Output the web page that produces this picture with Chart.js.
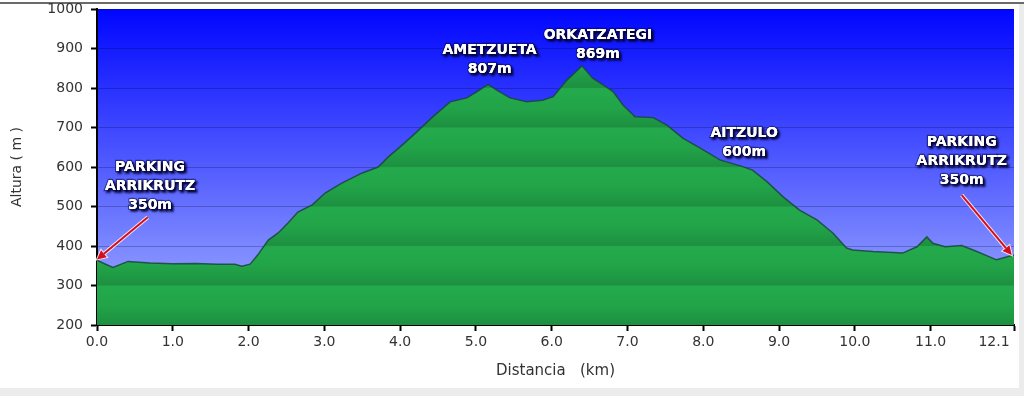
<!DOCTYPE html>
<html>
<head>
<meta charset="utf-8">
<script src="https://cdn.jsdelivr.net/npm/chart.js@4/dist/chart.umd.min.js"></script>
<style>
  html, body { margin: 0; padding: 0; background: #ffffff; }
  #wrap { position: relative; width: 1024px; height: 396px; overflow: hidden; }
  #topline { position: absolute; left: 0; top: 2px; width: 1024px; height: 2px; background: #6a6a6a; }
  #rightband { position: absolute; left: 1019px; top: 4px; width: 5px; height: 392px; background: #ececec; }
  #bottomband { position: absolute; left: 0; top: 388px; width: 1024px; height: 8px; background: #ececec; }
  canvas { position: absolute; left: 0; top: 0; }
</style>
</head>
<body>
<div id="wrap">
  <div id="topline"></div>
  <div id="rightband"></div>
  <div id="bottomband"></div>
  <canvas id="c" width="1024" height="396"></canvas>
</div>
<script>
// ---- data (distance in km, elevation in m) ----
const distanceKm = [0, 0.1, 0.21, 0.41, 0.7, 1.0, 1.3, 1.6, 1.82, 1.91, 2.02, 2.12, 2.26, 2.39, 2.52, 2.65, 2.84, 3.01, 3.23, 3.5, 3.71, 3.84, 4.0, 4.22, 4.43, 4.66, 4.88, 5.01, 5.16, 5.27, 5.45, 5.67, 5.88, 6.02, 6.2, 6.4, 6.54, 6.68, 6.81, 6.94, 7.1, 7.34, 7.52, 7.73, 7.96, 8.22, 8.52, 8.65, 8.84, 9.05, 9.27, 9.5, 9.71, 9.89, 9.97, 10.24, 10.63, 10.82, 10.95, 11.03, 11.19, 11.41, 11.61, 11.87, 12.07, 12.1];
const elevationM = [364, 355, 346, 361, 357, 355, 356, 354, 354, 349, 354, 377, 415, 433, 458, 486, 504, 534, 559, 585, 600, 625, 651, 689, 727, 765, 775, 790, 809, 795, 775, 765, 769, 778, 820, 856, 825, 808, 791, 757, 727, 725, 706, 673, 648, 618, 601, 592, 563, 525, 491, 466, 433, 395, 390, 386, 382, 398, 423, 407, 398, 401, 386, 365, 376, 377];

const xTickValues = [0, 1, 2, 3, 4, 5, 6, 7, 8, 9, 10, 11, 12.1];
const xTickLabels = ['0.0', '1.0', '2.0', '3.0', '4.0', '5.0', '6.0', '7.0', '8.0', '9.0', '10.0', '11.0', '12.1'];
const yMin = 200, yMax = 1000, yStep = 100;

// waypoint labels (text lines, anchor km, anchor elevation of first line)
const wpNames = [['PARKING', 'ARRIKRUTZ', '350m'], ['AMETZUETA', '807m'], ['ORKATZATEGI', '869m'], ['AITZULO', '600m'], ['PARKING', 'ARRIKRUTZ', '350m']];
const wpKm = [0.70, 5.18, 6.61, 8.54, 11.41];
const wpElev = [600, 896, 934, 686, 663];

// arrows: from (km, elev) to (km, elev)
const arrowFromKm = [0.67, 11.41];
const arrowFromElev = [473, 529];
const arrowToKm = [0.0, 12.07];
const arrowToElev = [366, 377];

const points = distanceKm.map((d, i) => ({ x: d, y: elevationM[i] }));

const bgPlugin = {
  id: 'bg',
  beforeDraw(chart) {
    const { ctx, chartArea: a } = chart;
    if (!a) return;
    const g = ctx.createLinearGradient(0, a.top, 0, a.bottom);
    g.addColorStop(0, '#0006ff');
    g.addColorStop(1, '#a4b2ff');
    ctx.save();
    ctx.fillStyle = g;
    ctx.fillRect(a.left, a.top, a.right - a.left, a.bottom - a.top);
    ctx.restore();
  }
};

function greenFill(context) {
  const chart = context.chart;
  const a = chart.chartArea;
  if (!a) return '#22a048';
  const ys = chart.scales.y;
  const ctx = chart.ctx;
  const g = ctx.createLinearGradient(0, a.top, 0, a.bottom);
  const H = a.bottom - a.top;
  for (let v = yMax; v > yMin; v -= yStep) {
    const pt = (ys.getPixelForValue(v) - a.top) / H;
    const pb = (ys.getPixelForValue(v - yStep) - a.top) / H;
    const span = pb - pt;
    g.addColorStop(Math.min(1, Math.max(0, pt + 0.002)), '#24aa4c');
    g.addColorStop(Math.min(1, Math.max(0, pt + span * 0.5)), '#22a449');
    g.addColorStop(Math.min(1, Math.max(0, pb - 0.002)), '#1d9040');
  }
  return g;
}

const labelPlugin = {
  id: 'labels',
  afterDraw(chart) {
    const { ctx } = chart;
    const xs = chart.scales.x, ys = chart.scales.y;
    ctx.save();
    // arrows
    for (let i = 0; i < arrowFromKm.length; i++) {
      const x1 = xs.getPixelForValue(arrowFromKm[i]), y1 = ys.getPixelForValue(arrowFromElev[i]);
      const x2 = xs.getPixelForValue(arrowToKm[i]), y2 = ys.getPixelForValue(arrowToElev[i]);
      const ang = Math.atan2(y2 - y1, x2 - x1);
      const hl = 9, hw = 4.5;
      const bx = x2 - hl * Math.cos(ang), by = y2 - hl * Math.sin(ang);
      const px = -Math.sin(ang), py = Math.cos(ang);
      ctx.strokeStyle = 'rgba(255,235,240,0.9)';
      ctx.lineWidth = 4;
      ctx.beginPath(); ctx.moveTo(x1, y1); ctx.lineTo(bx, by); ctx.stroke();
      ctx.beginPath();
      ctx.moveTo(x2, y2); ctx.lineTo(bx + px * hw, by + py * hw); ctx.lineTo(bx - px * hw, by - py * hw); ctx.closePath();
      ctx.lineWidth = 2; ctx.stroke();
      ctx.strokeStyle = '#d0101c';
      ctx.fillStyle = '#d0101c';
      ctx.lineWidth = 2;
      ctx.beginPath(); ctx.moveTo(x1, y1); ctx.lineTo(bx, by); ctx.stroke();
      ctx.beginPath();
      ctx.moveTo(x2, y2); ctx.lineTo(bx + px * hw, by + py * hw); ctx.lineTo(bx - px * hw, by - py * hw); ctx.closePath();
      ctx.fill();
    }
    // text
    ctx.font = 'bold 14px "DejaVu Sans", Verdana, sans-serif';
    ctx.textAlign = 'center';
    ctx.textBaseline = 'middle';
    for (let i = 0; i < wpNames.length; i++) {
      const cx = xs.getPixelForValue(wpKm[i]);
      const cy = ys.getPixelForValue(wpElev[i]);
      wpNames[i].forEach((t, j) => {
        const y = cy + j * 19;
        ctx.save();
        ctx.shadowColor = 'rgba(0,0,50,0.95)';
        ctx.shadowOffsetX = 2; ctx.shadowOffsetY = 2; ctx.shadowBlur = 2;
        ctx.lineWidth = 2.5;
        ctx.strokeStyle = 'rgba(10,10,70,0.55)';
        ctx.strokeText(t, cx, y);
        ctx.fillStyle = '#ffffff';
        ctx.fillText(t, cx, y);
        ctx.restore();
        ctx.fillStyle = '#ffffff';
        ctx.fillText(t, cx, y);
      });
    }
    ctx.restore();
  }
};

new Chart(document.getElementById('c'), {
  type: 'line',
  data: {
    datasets: [{
      data: points,
      fill: 'start',
      backgroundColor: greenFill,
      borderColor: 'rgba(25,70,60,0.85)',
      borderWidth: 1.5,
      pointRadius: 0,
      tension: 0
    }]
  },
  options: {
    responsive: false,
    animation: false,
    events: [],
    layout: { padding: { left: 0, right: 10, top: 9, bottom: 0 } },
    plugins: { legend: { display: false }, tooltip: { enabled: false } },
    scales: {
      x: {
        type: 'linear',
        min: 0,
        max: 12.1,
        afterBuildTicks(scale) { scale.ticks = xTickValues.map(v => ({ value: v })); },
        afterFit(scale) { scale.height = 71; scale.paddingLeft = 0; scale.paddingRight = 0; },
        ticks: {
          autoSkip: false,
          maxRotation: 0,
          padding: 3,
          color: '#333333',
          font: { family: '"DejaVu Sans", Verdana, sans-serif', size: 14 },
          callback(value, index) {
            const t = xTickLabels[index];
            return index === xTickLabels.length - 1 ? t + '         ' : t;
          }
        },
        grid: { drawOnChartArea: false, drawTicks: true, tickLength: 6, tickColor: '#000000', tickWidth: 2 },
        border: { display: true, color: '#000000', width: 2 },
        title: {
          display: true,
          text: 'Distancia   (km)',
          color: '#333333',
          font: { family: '"DejaVu Sans", Verdana, sans-serif', size: 15 },
          padding: { top: 0, bottom: 16 }
        }
      },
      y: {
        min: yMin,
        max: yMax,
        z: 1,
        afterFit(scale) { scale.width = 97; scale.paddingTop = 0; scale.paddingBottom = 0; },
        ticks: {
          stepSize: yStep,
          padding: 8,
          color: '#333333',
          font: { family: '"DejaVu Sans", Verdana, sans-serif', size: 14 },
          callback(value) { return String(value); }
        },
        grid: {
          color: 'rgba(0,0,40,0.25)',
          lineWidth: 1,
          drawTicks: true,
          tickLength: 6,
          tickColor: '#000000',
          tickWidth: 2
        },
        border: { display: true, color: '#000000', width: 2 },
        title: {
          display: true,
          text: 'Altura ( m )',
          color: '#333333',
          font: { family: '"DejaVu Sans", Verdana, sans-serif', size: 14 },
          padding: { top: 9, bottom: 0 }
        }
      }
    }
  },
  plugins: [bgPlugin, labelPlugin]
});
</script>
</body>
</html>
